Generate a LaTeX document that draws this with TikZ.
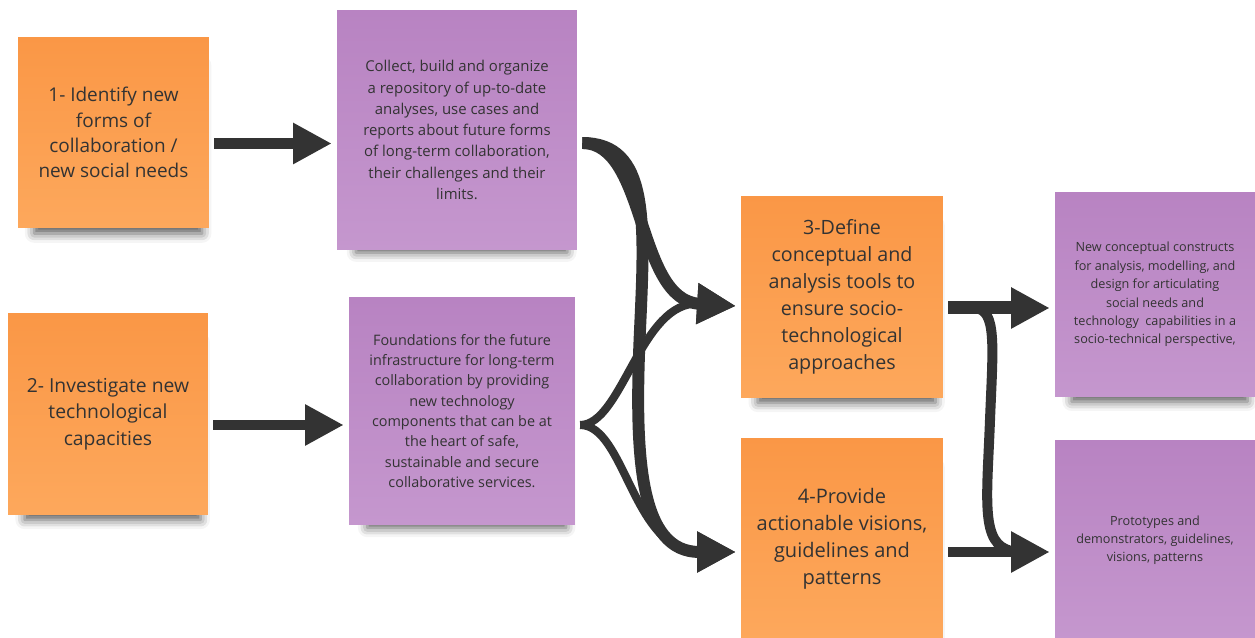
\documentclass[tikz,border=0pt]{standalone}
\usepackage{fontspec}
\setmainfont{Open Sans}
\usetikzlibrary{arrows.meta,shadows.blur,calc}
\definecolor{ink}{HTML}{333333}
\definecolor{orangetop}{RGB}{250,151,70}
\definecolor{orangebot}{RGB}{253,168,92}
\definecolor{purpletop}{RGB}{184,131,194}
\definecolor{purplebot}{RGB}{197,151,206}
\tikzset{
  note/.style={inner sep=0pt, outer sep=3pt, align=center, text=ink,
    blur shadow={shadow xshift=3pt, shadow yshift=-11pt, shadow scale=0.88,
      shadow blur radius=6pt, shadow opacity=65}},
  orangenote/.style={note, top color=orangetop, bottom color=orangebot},
  purplenote/.style={note, top color=purpletop, bottom color=purplebot},
  bigarrow/.style={draw=ink, line width=6.2pt, -{Triangle[length=22pt,width=22pt]}},
  curvearrow/.style={bigarrow, line width=#1},
  curvearrow/.default=6.2pt,
  bracearrow/.style={draw=ink, line width=#1},
}
\begin{document}
\begin{tikzpicture}[x=0.02cm, y=-0.02cm]
\useasboundingbox (0,0) rectangle (1255,638);
\node [orangenote, minimum width=3.82cm, minimum height=3.82cm,
  font=\fontsize{10.8}{14.3}\selectfont] (o1) at (113.5,132.5)
  {1- Identify new\\forms of\\collaboration /\\new social needs};
\node [orangenote, minimum width=4cm, minimum height=4.04cm,
  font=\fontsize{11}{15}\selectfont] (o2) at (108,414)
  {2- Investigate new\\technological\\capacities};
\node [purplenote, minimum width=4.8cm, minimum height=4.8cm,
  font=\fontsize{8.5}{12.1}\selectfont] (p1) at (457,130)
  {Collect, build and organize\\\mbox{a repository of up-to-date}\\analyses, use cases and\\reports about future forms\\\mbox{of long-term collaboration,}\\their challenges and their\\limits.};
\node [purplenote, minimum width=4.52cm, minimum height=4.54cm,
  font=\fontsize{8.2}{11.6}\selectfont] (p2) at (462,411)
  {Foundations for the future\\\mbox{infrastructure for long-term}\\collaboration by providing\\new technology\\components that can be at\\the heart of safe,\\sustainable and secure\\collaborative services.};
\node [orangenote, minimum width=4.04cm, minimum height=4.04cm,
  font=\fontsize{11.2}{15.3}\selectfont] (o3) at (842,297)
  {3-Define\\conceptual and\\analysis tools to\\ensure socio-\\technological\\approaches};
\node [orangenote, minimum width=4.04cm, minimum height=4.04cm,
  font=\fontsize{11.4}{15.3}\selectfont] (o4) at (842,539)
  {4-Provide\\actionable visions,\\guidelines and\\patterns};
\node [purplenote, minimum width=4cm, minimum height=4.1cm,
  font=\fontsize{7.2}{10.5}\selectfont] (p3) at (1155,294.5)
  {New conceptual constructs\\for analysis, modelling, and\\design for articulating\\social needs and\\technology\ \ capabilities in a\\\mbox{socio-technical perspective,}};
\node [purplenote, minimum width=4cm, minimum height=4cm,
  font=\fontsize{7.2}{10.3}\selectfont] (p4) at (1155,540)
  {Prototypes and\\demonstrators, guidelines,\\visions, patterns};
\coordinate (s1) at ($(o1.east)+(0,11)$);
\coordinate (s2) at ($(o2.east)+(0,11)$);
\coordinate (b1) at ($(p1.east)+(0,13)$);
\coordinate (b2) at ($(p2.east)+(0,14)$);
\coordinate (t3) at ($(o3.west)+(0,9)$);
\coordinate (t4) at ($(o4.west)+(0,13)$);
\coordinate (r3) at ($(o3.east)+(0,11)$);
\coordinate (r4) at ($(o4.east)+(0,13)$);
\draw [bigarrow] (s1) -- (s1 -| p1.west);
\draw [bigarrow] (s2) -- (s2 -| p2.west);
\draw [curvearrow=4.6pt] (b2) .. controls +(42,0) and +(-95,-6) .. (t3);
\draw [curvearrow=4.6pt] (b2) .. controls +(45,0) and +(-103,0) .. (t4);
\draw [curvearrow=6.8pt] (b1) .. controls +(65,0) and +(-100,-6) .. (t3);
\draw [curvearrow=6.8pt] (b1) .. controls +(67,0) and (645,220) .. (640,330)
  .. controls (634,460) and (640,552) .. (t4);
\draw [bigarrow, line width=7.4pt] (r3) -- (r3 -| p3.west);
\draw [bracearrow=5.7pt] (r3) -- (975,308) .. controls (997,310) and (993,345) .. (990,420)
  .. controls (987,500) and (980,545) .. (1012,551);
\draw [bigarrow] (r4) -- (r4 -| p4.west);
\end{tikzpicture}
\end{document}
